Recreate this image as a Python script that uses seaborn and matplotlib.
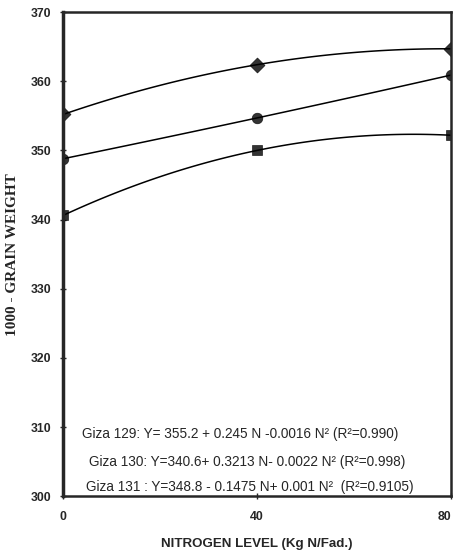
import numpy as np
import pandas as pd
import matplotlib
matplotlib.use("Agg")
import matplotlib.pyplot as plt
import seaborn as sns

# values
nitrogen = [0, 40, 80]
giza129 = [355.2, 362.4, 364.7]
giza130 = [348.8, 354.7, 360.9]
giza131 = [340.6, 350.0, 352.2]
markers = ["D", "o", "s"]

equations = [
    "Giza 129: Y= 355.2 + 0.245 N -0.0016 N² (R²=0.990)",
    "Giza 130: Y=340.6+ 0.3213 N- 0.0022 N² (R²=0.998)",
    "Giza 131 : Y=348.8 - 0.1475 N+ 0.001 N²  (R²=0.9105)",
]
eq_x = [36.5, 37.9, 38.6]
eq_y = [308.95, 304.9, 301.3]

sns.set_style("ticks")
plt.rcParams["font.family"] = ["Liberation Sans", "DejaVu Sans"]

fig = plt.figure(figsize=(4.53, 5.52), dpi=100)
ax = fig.add_axes([0.139, 0.101, 0.8566, 0.877])

series = [giza129, giza130, giza131]
for vals, m in zip(series, markers):
    df = pd.DataFrame({"N": nitrogen, "W": vals})
    sns.regplot(data=df, x="N", y="W", order=2, ci=None, ax=ax, color="black",
                marker=m, truncate=True,
                scatter_kws={"s": 58, "edgecolors": "black", "linewidths": 0.5},
                line_kws={"lw": 1.1})

for t, x, y in zip(equations, eq_x, eq_y):
    ax.text(x, y, t, ha="center", va="center", fontsize=9.8)

ax.set_xlim(0, 80)
ax.set_ylim(300, 370)
ax.set_xticks(nitrogen)
ax.set_yticks(np.arange(300, 371, 10))
ax.tick_params(direction="inout", length=5, width=1, labelsize=8.8)
ax.tick_params(axis="y", pad=6)
ax.tick_params(axis="x", pad=8)
for lab in ax.get_xticklabels() + ax.get_yticklabels():
    lab.set_fontweight("bold")
# keep the last x label inside the figure
ax.get_xticklabels()[-1].set_horizontalalignment("right")
for s in ax.spines.values():
    s.set_linewidth(1.8)
    s.set_visible(True)
ax.spines["left"].set_linewidth(2.5)

ax.set_xlabel("NITROGEN LEVEL (Kg N/Fad.)", fontsize=9.6, fontweight="bold", labelpad=11)
ax.set_ylabel("1000 - GRAIN WEIGHT", fontsize=11, fontweight="bold",
              family="Liberation Serif", labelpad=8)

fig.savefig("out.png", dpi=100)
